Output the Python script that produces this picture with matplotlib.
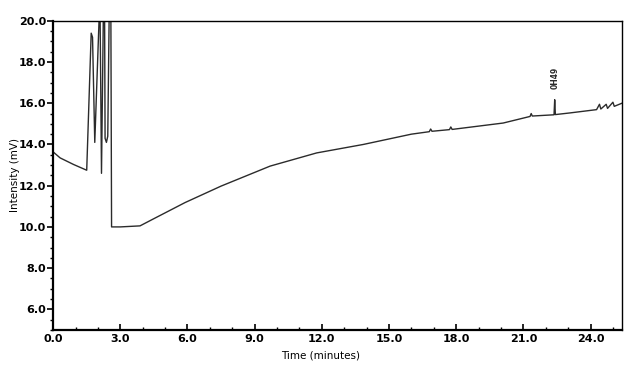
import numpy as np
import matplotlib
matplotlib.use("Agg")
import matplotlib.pyplot as plt
from matplotlib.ticker import MultipleLocator
#
# -----------------------------------------------------------------------------
#
""" Trace read off the scanned chromatogram """
# time in minutes
t_min = [0.00, 0.31, 0.91, 1.50, 1.70, 1.76, 1.86, 2.05, 2.10, 2.16,
         2.24, 2.30, 2.32, 2.38, 2.44, 2.50, 2.58, 2.61, 3.00, 3.88,
         4.50, 5.89, 7.50, 9.69, 11.77, 13.85, 16.00, 16.80, 16.86, 16.92,
         17.70, 17.76, 17.82, 20.10, 21.30, 21.35, 21.40, 22.37, 22.40, 22.43,
         23.08, 24.27, 24.40, 24.46, 24.70, 24.76, 25.00, 25.06, 25.40]
# detector signal in mV
signal_mV = [13.64, 13.35, 13.03, 12.75, 19.40, 19.20, 14.10, 20.00, 20.00, 12.60,
             20.00, 20.00, 14.30, 14.10, 14.40, 20.00, 20.00, 10.00, 10.00, 10.05,
             10.40, 11.18, 11.98, 12.95, 13.59, 14.00, 14.50, 14.62, 14.75, 14.64,
             14.72, 14.85, 14.73, 15.04, 15.36, 15.50, 15.38, 15.44, 16.17, 15.45,
             15.53, 15.69, 15.95, 15.72, 15.95, 15.75, 16.05, 15.85, 16.00]

peak_time = 22.40
peak_label = "0H49"

x_ticks = [0, 3, 6, 9, 12, 15, 18, 21, 24]
y_ticks = [6, 8, 10, 12, 14, 16, 18, 20]
#
# -----------------------------------------------------------------------------
#
""" Plot """
matplotlib.rcParams.update({'font.size': 8, 'font.weight': 'bold'})
f = plt.figure(figsize=(6.25, 3.65), dpi=100)
ax = f.add_axes([0.085, 0.096, 0.91, 0.847])

ax.plot(t_min, signal_mV, color='#2b2b2b', linewidth=1.0)
ax.text(peak_time, 17.25, peak_label, rotation=90, fontsize=5.5,
        ha='center', va='center', color='#2b2b2b')

ax.set_xlim(0, 25.4)
ax.set_ylim(5.0, 20.0)
ax.set_xticks(x_ticks)
ax.set_xticklabels([f"{v:.1f}" for v in x_ticks])
ax.set_yticks(y_ticks)
ax.set_yticklabels([f"{v:.1f}" for v in y_ticks])
ax.xaxis.set_minor_locator(MultipleLocator(1))
ax.yaxis.set_minor_locator(MultipleLocator(0.5))
ax.tick_params(axis='x', which='major', direction='in', length=4, width=1.2, pad=3)
ax.tick_params(axis='x', which='minor', direction='in', length=2.5, width=1)
ax.tick_params(axis='y', which='major', direction='out', length=4, width=1.2, pad=1)
ax.tick_params(axis='y', which='minor', direction='out', length=2, width=1)

for side in ['left', 'bottom']:
    ax.spines[side].set_linewidth(1.6)
for side in ['top', 'right']:
    ax.spines[side].set_linewidth(1.0)

ax.set_xlabel('Time (minutes)', fontsize=7.5)
ax.xaxis.set_label_coords(0.47, -0.065)
ax.set_ylabel('Intensity (mV)', fontsize=7.5)
ax.yaxis.set_label_coords(-0.058, 0.5)

f.savefig('out.png', dpi=100)
